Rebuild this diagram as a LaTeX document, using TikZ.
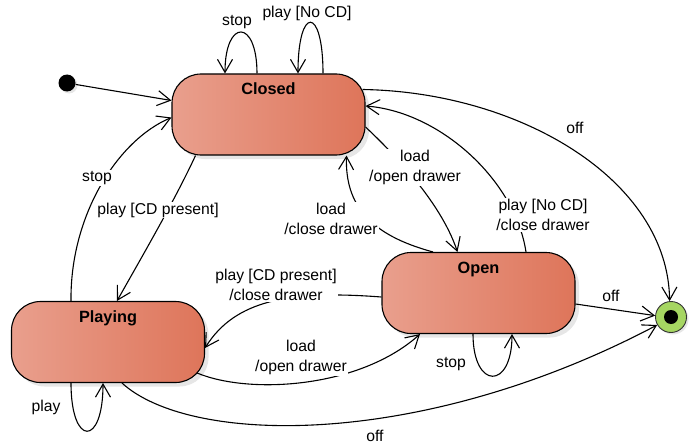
\documentclass[tikz,border=0pt]{standalone}
\usepackage{fontspec}
\setmainfont{Liberation Sans}
\usetikzlibrary{arrows.meta,shadows}
\definecolor{stL}{RGB}{233,159,141}
\definecolor{stR}{RGB}{222,117,90}
\definecolor{finG}{RGB}{166,214,98}
\begin{document}
\begin{tikzpicture}[x=1pt,y=-1pt,
  every node/.style={font=\fontsize{15.7}{20.5}\selectfont},
  state/.style={draw=black, line width=1.1pt, rounded corners=29pt,
    left color=stL, right color=stR, minimum width=193pt, minimum height=81pt,
    drop shadow={opacity=0.2, shadow xshift=4pt, shadow yshift=-4pt}},
  ttl/.style={font=\bfseries\fontsize{16.3}{19}\selectfont, anchor=north, inner sep=0pt,
    text height=12pt, text depth=3pt, label distance=-9pt},
  tr/.style={line width=1.1pt, -{Straight Barb[length=13pt,width=15pt,line width=1.1pt]}},
  lbl/.style={fill=white, inner sep=1pt, align=center}
]
\useasboundingbox (0,0) rectangle (696,444);

% states
\node[state, label={[ttl]north:Closed}] (closed) at (268.5,114.5) {};
\node[state, label={[ttl]north:Playing}] (playing) at (108,342) {};
\node[state, label={[ttl]north:Open}] (open) at (478.5,293) {};

% pseudo states
\node[circle, fill=black, minimum size=17pt, inner sep=0pt,
  drop shadow={opacity=0.2, shadow xshift=2pt, shadow yshift=-2pt}] (init) at (67,83) {};
\node[circle, draw=black!80, line width=0.9pt, fill=finG, minimum size=31pt, inner sep=0pt,
  drop shadow={opacity=0.2, shadow xshift=2pt, shadow yshift=-2pt}] (final) at (671,317) {};
\node[circle, fill=black, minimum size=14pt, inner sep=0pt] (finalin) at (final.center) {};

% transitions
\draw[tr] (init) -- ([yshift=14pt]closed.west);
\draw[tr] ([xshift=-11.5pt]closed.north) .. controls +(0,-55) and +(0,-55) .. ([xshift=-43.5pt]closed.north);
\draw[tr] ([xshift=54.5pt]closed.north) .. controls +(0,-68) and +(0,-68) .. ([xshift=29.5pt]closed.north);
\draw[tr] ([xshift=-3pt,yshift=25pt]closed.east) .. controls (520,92) and (668,180) .. (final.95);
\draw[tr] ([xshift=47.5pt]open.north) .. controls (515,180) and (440,112) .. ([yshift=8.5pt]closed.east);
\draw[tr] ([yshift=-12.5pt]closed.east) .. controls (390,150) and (440,200) .. ([xshift=-21pt]open.north);
\draw[tr] ([xshift=-45.5pt]open.north) .. controls (370,235) and (345,205) .. ([xshift=78pt]closed.south);
\draw[tr] ([xshift=-73pt]closed.south) .. controls (175,200) and (140,260) .. ([xshift=9pt]playing.north);
\draw[tr] ([xshift=-37pt]playing.north) .. controls (70,215) and (118,140) .. ([yshift=-3pt]closed.west);
\draw[tr] ([yshift=-4pt]open.west) .. controls (290,290) and (235,300) .. ([yshift=-6pt]playing.east);
\draw[tr] ([xshift=-8pt,yshift=-31pt]playing.east) .. controls (250,395) and (360,388) .. ([xshift=-58.5pt]open.south);
\draw[tr] ([xshift=-5.5pt]open.south) .. controls +(0,56) and +(0,56) .. ([xshift=33.5pt]open.south);
\draw[tr] ([xshift=-37pt]playing.south) .. controls +(0,64) and +(0,64) .. ([xshift=-5pt]playing.south);
\draw[tr] ([yshift=-11pt]open.east) -- (final.175);
\draw[tr] ([xshift=14pt]playing.south) .. controls (190,445) and (420,450) .. (final.210);

% labels
\node[lbl] (l1) at (237,22) {stop};
\node[lbl] (l2) at (307,13) {play [No CD]};
\node[lbl] (l3) at (575,128) {off};
\node[lbl] (l4) at (543,215) {play [No CD]\\/close drawer};
\node[lbl] (l5) at (415,167.5) {load\\/open drawer};
\node[lbl] (l6) at (331,219) {load\\/close drawer};
\node[lbl] (l7) at (158,210) {play [CD present]};
\node[lbl] (l8) at (97,178) {stop};
\node[lbl] (l9) at (276,285) {play [CD present]\\/close drawer};
\node[lbl] (l10) at (301,357.5) {load\\/open drawer};
\node[lbl] (l11) at (451,364) {stop};
\node[lbl] (l12) at (46,407) {play};
\node[lbl] (l13) at (611,296) {off};
\node[lbl] (l14) at (375,436) {off};
\end{tikzpicture}
\end{document}
